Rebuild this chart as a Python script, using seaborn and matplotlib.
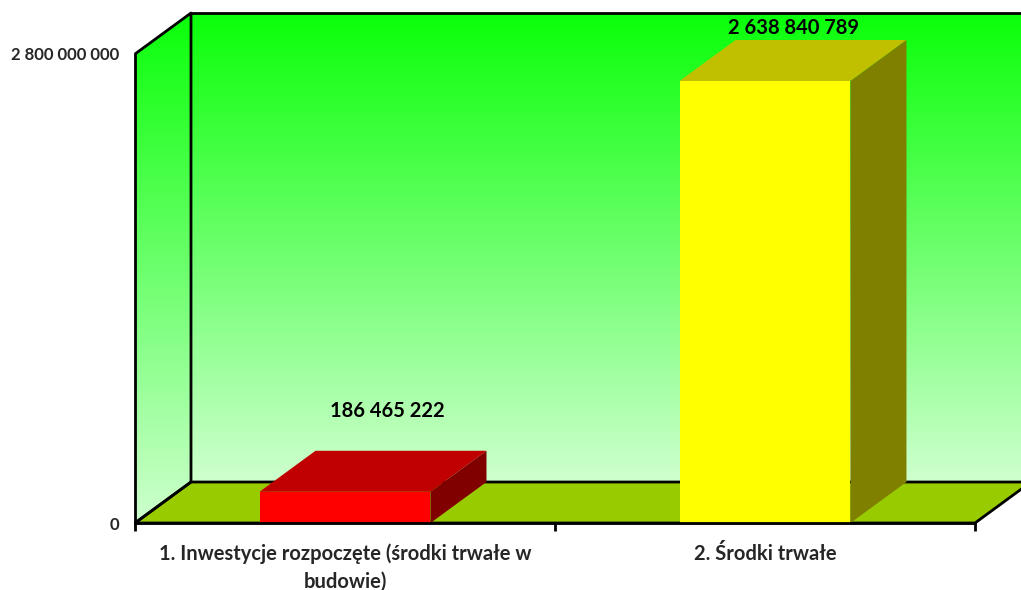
import matplotlib
matplotlib.use("Agg")
import matplotlib.pyplot as plt
import seaborn as sns
import numpy as np
import pandas as pd
from matplotlib.patches import Polygon
from matplotlib.transforms import IdentityTransform

# ---- data ----
categories = ["1. Inwestycje rozpoczęte (środki trwałe w\nbudowie)", "2. Środki trwałe"]
values = [186465222, 2638840789]
value_labels = ["186 465 222", "2 638 840 789"]
y_ticks = [0, 2800000000]
y_tick_labels = ["0", "2 800 000 000"]

front_colors = ["#FF0000", "#FFFF00"]
top_colors = ["#C00000", "#C0C000"]
side_colors = ["#800000", "#808000"]

sns.set_theme(style="white")
plt.rcParams['font.family'] = ['Lato', 'DejaVu Sans']

W, H = 1021, 590
fig = plt.figure(figsize=(W / 100, H / 100), dpi=100)
fig.patch.set_facecolor("white")

# background axes in pixel coordinates (for walls / floor)
bg = fig.add_axes([0, 0, 1, 1], zorder=0)
bg.set_xlim(0, W)
bg.set_ylim(0, H)
bg.axis("off")

ax = fig.add_axes([135 / W, (H - 523) / H, (975 - 135) / W, (523 - 54) / H], zorder=1)
ax.patch.set_alpha(0)

df = pd.DataFrame({"cat": categories, "val": values})
sns.barplot(data=df, x="cat", y="val", hue="cat", palette=front_colors,
            width=0.407, saturation=1, legend=False, edgecolor="none", ax=ax)
ax.set_xlim(-0.5, 1.5)
ax.set_ylim(0, 2.8e9)

DX, DY = 56, 41

# front plane corners in display px
(x0, y0), (x1, y1) = ax.transData.transform([(-0.5, 0), (1.5, 2.8e9)])

# gradient
grad = np.linspace(0, 1, 256)[:, None]
top_c = np.array([10, 255, 10]) / 255
bot_c = np.array([206, 255, 206]) / 255
img = top_c[None, None, :] * (1 - grad[:, :, None]) + bot_c[None, None, :] * grad[:, :, None]
img = np.repeat(img, 2, axis=1)

# back wall
bg.imshow(img, extent=[x0 + DX, x1 + DX, y0 + DY, y1 + DY], aspect="auto",
          origin="upper", zorder=1, interpolation="bilinear")
# left wall
lw_poly = Polygon([(x0, y0), (x0 + DX, y0 + DY), (x0 + DX, y1 + DY), (x0, y1)],
                  closed=True, facecolor="none", edgecolor="none")
bg.add_patch(lw_poly)
lw_img = bg.imshow(img, extent=[x0, x0 + DX, y0, y1 + DY], aspect="auto",
                   origin="upper", zorder=1, interpolation="bilinear")
lw_img.set_clip_path(lw_poly)
bg.set_xlim(0, W)
bg.set_ylim(0, H)

# floor
floor = Polygon([(x0, y0), (x1, y0), (x1 + DX, y0 + DY), (x0 + DX, y0 + DY)],
                closed=True, facecolor="#99CC00", edgecolor="black", lw=2, zorder=2)
bg.add_patch(floor)
# wall outlines
k = dict(color="black", lw=2, zorder=3, solid_capstyle="butt")
bg.plot([x0, x0 + DX, x0 + DX], [y1, y1 + DY, y0 + DY], **k)
bg.plot([x0 + DX, x1 + DX], [y1 + DY, y1 + DY], **k)
bg.plot([x0, x0 + DX], [y0, y0 + DY], **k)

# 3D bar faces
label_dx = [14, 0]
label_dy = [30, 2]
for i, p in enumerate(ax.patches):
    p.set_clip_on(False)
    (xl, yb), (xr, yt) = ax.transData.transform(
        [(p.get_x(), 0), (p.get_x() + p.get_width(), p.get_height())])
    topf = Polygon([(xl, yt), (xr, yt), (xr + DX, yt + DY), (xl + DX, yt + DY)],
                   closed=True, facecolor=top_colors[i], edgecolor="none",
                   transform=IdentityTransform(), clip_on=False)
    side = Polygon([(xr, yb), (xr + DX, yb + DY), (xr + DX, yt + DY), (xr, yt)],
                   closed=True, facecolor=side_colors[i], edgecolor="none",
                   transform=IdentityTransform(), clip_on=False)
    ax.add_patch(topf)
    ax.add_patch(side)
    ax.text((xl + xr) / 2 + DX / 2 + label_dx[i], yt + DY + label_dy[i], value_labels[i],
            transform=IdentityTransform(), ha="center", va="bottom",
            fontsize=14.5, fontweight="bold", color="black")

# axes styling
for s in ["top", "right"]:
    ax.spines[s].set_visible(False)
for s in ["left", "bottom"]:
    ax.spines[s].set_color("black")
    ax.spines[s].set_linewidth(2)
ax.spines["bottom"].set_zorder(5)

ax.set_yticks(y_ticks)
ax.set_yticklabels(y_tick_labels, fontsize=12, fontweight="bold")
ax.tick_params(axis="y", length=0, pad=11)

ax.set_xticks(range(len(categories)))
ax.set_xticklabels(categories, fontsize=14.5, fontweight="bold", linespacing=1.45)
ax.set_xticks([-0.5, 0.5, 1.5], minor=True)
ax.tick_params(axis="x", which="major", length=0, pad=15)
ax.tick_params(axis="x", which="minor", length=6, width=2, color="black", direction="out", bottom=True)
ax.set_xlabel("")
ax.set_ylabel("")

fig.savefig("out.png", dpi=100)
